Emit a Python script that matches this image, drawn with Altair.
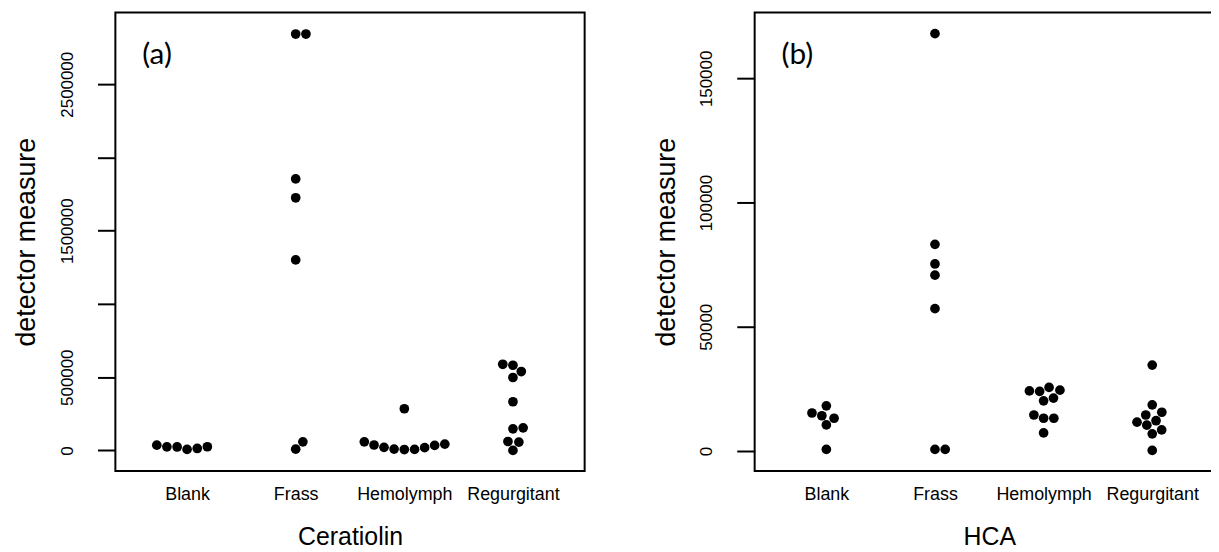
import math
import altair as alt
import pandas as pd

# ---------------- data ----------------
groups = ["Blank", "Frass", "Hemolymph", "Regurgitant"]

# Panel (a) Ceratiolin
cer_blank = [6800, 13500, 23700, 24400, 25100, 36000]
cer_frass = [8800, 58700, 1300800, 1725000, 1854000, 2843000, 2843000]
cer_hemo = [6000, 7000, 9000, 19000, 21000, 34000, 37000, 42700, 58700, 284500]
cer_regu = [0, 57000, 61000, 147200, 154000, 332400, 498000, 538600, 581400, 588200]

# Panel (b) HCA
hca_blank = [640, 10500, 13200, 14200, 15300, 18200]
hca_frass = [640, 640, 57300, 70800, 75300, 83200, 168000]
hca_hemo = [7300, 13200, 13200, 14500, 20200, 21300, 24000, 24200, 24500, 25600]
hca_regu = [240, 6900, 8500, 10400, 11600, 12200, 14500, 15600, 18600, 34600]

a_ticks = [0, 500000, 1000000, 1500000, 2000000, 2500000]
a_labels = ["0", "500000", "", "1500000", "", "2500000"]
b_ticks = [0, 50000, 100000, 150000]
b_labels = ["0", "50000", "100000", "150000"]

panel_letters = ["(a)", "(b)"]
x_titles = ["Ceratiolin", "HCA"]
y_title = "detector measure"

# ---------------- layout constants ----------------
W, H = 472, 461
XDOM = [0.34, 4.66]
A_DOM = [-139700, 2989700]
B_DOM = [-8000, 176500]
DOT = 10.3  # swarm spacing in px


def swarm(values, per_px, spacing=DOT):
    """beeswarm 'swarm' placement (priority ascending), returns px offsets."""
    yd = [v / per_px / spacing for v in values]
    order = sorted(range(len(values)), key=lambda i: yd[i])
    xs = [0.0] * len(values)
    placed = []
    for i in order:
        yi = yd[i]
        pre = [(xs[j], yd[j]) for j in placed if abs(yd[j] - yi) < 1]
        if pre:
            offs = [math.sqrt(1 - (yi - py) ** 2) for _, py in pre]
            cands = [0.0] + [px + o for (px, _), o in zip(pre, offs)] + \
                    [px - o for (px, _), o in zip(pre, offs)]
            best = None
            for c in cands:
                if any((yi - py) ** 2 + (c - px) ** 2 < 0.999 for px, py in pre):
                    continue
                if best is None or abs(c) < abs(best):
                    best = c
            xs[i] = best if best is not None else 0.0
        placed.append(i)
    return [x * spacing for x in xs]


def build_df(series, dom):
    per_px = (dom[1] - dom[0]) / H
    px_per_x = W / (XDOM[1] - XDOM[0])
    rows = []
    for gi, vals in enumerate(series, start=1):
        offs = swarm(vals, per_px)
        for v, o in zip(vals, offs):
            rows.append({"group": groups[gi - 1], "x": gi + o / px_per_x, "value": v})
    return pd.DataFrame(rows)


df_a = build_df([cer_blank, cer_frass, cer_hemo, cer_regu], A_DOM)
df_b = build_df([hca_blank, hca_frass, hca_hemo, hca_regu], B_DOM)

x_label_expr = "[" + ",".join(["''"] + ["'%s'" % g for g in groups]) + "][datum.value]"


def ylabel_expr(ticks, labels):
    parts = " : ".join("datum.value == %d ? '%s'" % (t, l) for t, l in zip(ticks, labels))
    return parts + " : ''"


FONT = "Liberation Sans"


def panel(df, dom, ticks, labels, xtitle, letter):
    pts = alt.Chart(df).mark_circle(size=95, color="black", opacity=1).encode(
        x=alt.X("x:Q",
                scale=alt.Scale(domain=XDOM, nice=False, zero=False),
                axis=alt.Axis(values=[1, 2, 3, 4], labelExpr=x_label_expr,
                              ticks=False, tickSize=0, domain=False, grid=False,
                              labelFontSize=18, labelPadding=29,
                              labelBaseline="alphabetic", labelFlush=False,
                              labelOverlap=False,
                              title=xtitle, titleFontSize=25, titleY=74,
                              titleBaseline="alphabetic")),
        y=alt.Y("value:Q",
                scale=alt.Scale(domain=dom, nice=False, zero=False),
                axis=alt.Axis(values=ticks, labelExpr=ylabel_expr(ticks, labels),
                              grid=False, domain=False, tickSize=18, tickWidth=2,
                              tickColor="black", labelAngle=270, labelAlign="center",
                              labelBaseline="alphabetic", labelPadding=25,
                              labelFontSize=17, labelOverlap=False, labelFlush=False,
                              title=y_title, titleFontSize=27, titleX=-81,
                              titleAngle=270, titleBaseline="alphabetic")),
    )
    txt = alt.Chart(pd.DataFrame({"t": [letter]})).mark_text(
        align="left", baseline="alphabetic", fontSize=30, font="Lato", color="black"
    ).encode(x=alt.value(27), y=alt.value(52), text="t:N")
    return alt.layer(pts, txt).properties(width=W, height=H)


pa = panel(df_a, A_DOM, a_ticks, a_labels, x_titles[0], panel_letters[0])
pb = panel(df_b, B_DOM, b_ticks, b_labels, x_titles[1], panel_letters[1])

chart = alt.hconcat(pa, pb, spacing=171, bounds="flush").properties(
    padding={"left": 4, "top": 2, "right": -14, "bottom": 0}
).configure_view(
    stroke="black", strokeWidth=2
).configure_axis(
    labelFont=FONT, titleFont=FONT, labelColor="black", titleColor="black",
    titleFontWeight="normal"
)

chart.save("out.html", embed_options={"renderer": "svg", "actions": False})
